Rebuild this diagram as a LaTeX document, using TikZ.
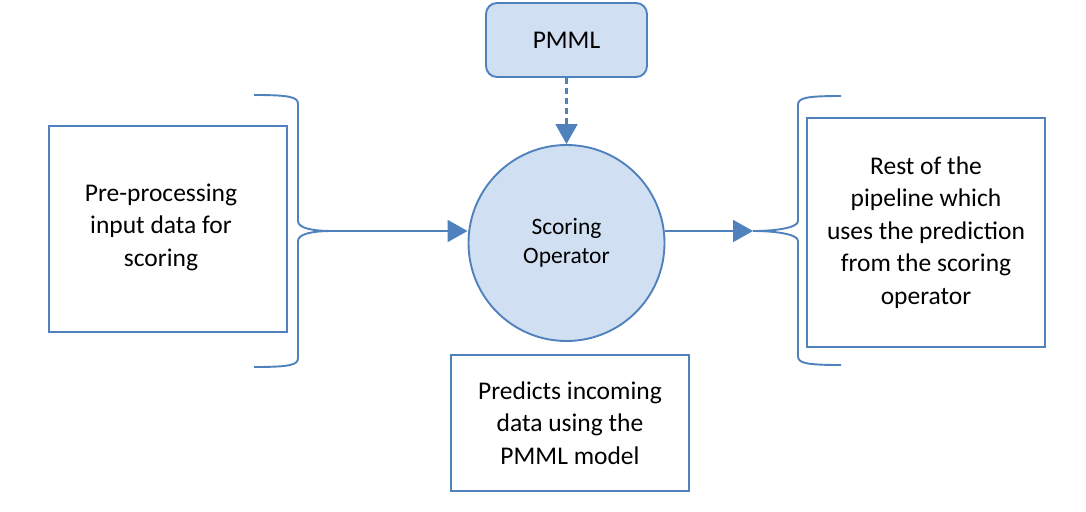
\documentclass[tikz,border=0pt]{standalone}
\usepackage{fontspec}
\setmainfont{Carlito}
\usetikzlibrary{arrows.meta}
\definecolor{lineblue}{RGB}{79,129,189}
\definecolor{fillblue}{RGB}{208,224,242}
\tikzset{
  box/.style={draw=lineblue, line width=1.9pt, inner sep=0pt, align=center,
    font=\fontsize{25.5}{32.5}\selectfont},
  brace/.style={draw=lineblue, line width=1.9pt},
  conn/.style={draw=lineblue, line width=1.9pt, -{Triangle[length=20pt,width=22pt]}},
}
\begin{document}
\begin{tikzpicture}[x=1pt,y=-1pt]
\useasboundingbox (0,0) rectangle (1086,511);
% nodes
\node[box, minimum width=238pt, minimum height=206pt,
  label={[xshift=-7pt,yshift=2pt,align=center,font=\fontsize{25.5}{32.5}\selectfont]center:Pre-processing\\input data for\\scoring}]
  (pre) at (168,229) {};
\node[box, minimum width=238pt, minimum height=229pt] (rest) at (926,232.5)
  {Rest of the\\pipeline which\\uses the prediction\\from the scoring\\operator};
\node[box, minimum width=238pt, minimum height=136pt] (pred) at (570,423)
  {Predicts incoming\\data using the\\PMML model};
\node[box, fill=fillblue, rounded corners=11pt, minimum width=161pt, minimum height=74pt] (pmml) at (566.5,40) {PMML};
\node[draw=lineblue, fill=fillblue, line width=1.9pt, circle, inner sep=0pt, minimum size=196pt,
  align=center, font=\fontsize{23.5}{28.5}\selectfont] (op) at (566.5,243) {Scoring\\Operator};
% brace tips
\coordinate (lb) at (332,231);
\coordinate (rb) at (753,231);
% left brace
\draw[brace] (254,95) .. controls (290,95) and (298,97) .. (298,104) -- (298,221)
  .. controls (298,228) and (312,231) .. (lb);
\draw[brace] (lb) .. controls (312,231) and (298,234) .. (298,241) -- (298,358)
  .. controls (298,365) and (290,367) .. (254,367);
% right brace
\draw[brace] (841,96) .. controls (805,96) and (798,98) .. (798,105) -- (798,221)
  .. controls (798,228) and (775,231) .. (rb);
\draw[brace] (rb) .. controls (775,231) and (798,234) .. (798,241) -- (798,356)
  .. controls (798,363) and (805,365) .. (841,365);
% connectors
\draw[conn] (lb) -- (lb -| op.west);
\draw[conn] (op.east |- rb) -- (rb);
\draw[brace, line width=2.1pt, dash pattern=on 6pt off 4pt, shorten >=20pt] (pmml.south) -- (op.north);
\draw[conn, shorten <=47.5pt] (pmml.south) -- (op.north);
\end{tikzpicture}
\end{document}
